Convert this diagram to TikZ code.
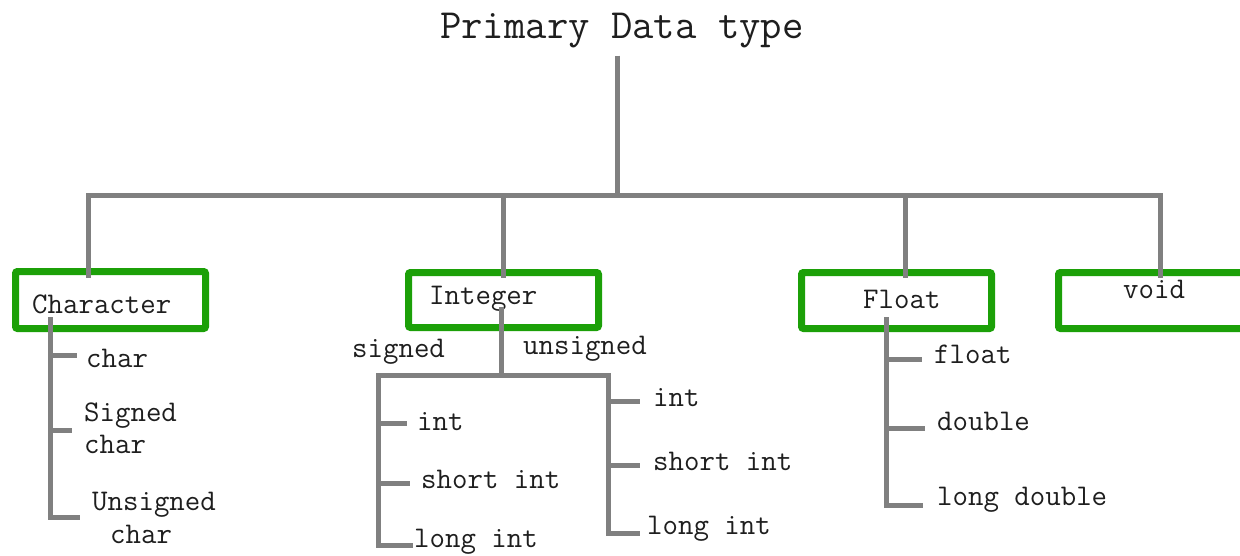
\documentclass[tikz,border=0pt]{standalone}
\usepackage{fontspec}
\definecolor{treegray}{RGB}{128,128,128}
\definecolor{boxgreen}{RGB}{28,160,8}
\definecolor{inkc}{RGB}{30,30,30}
\newcommand\lbfont{\ttfamily\fontsize{30}{30}\selectfont}
\newcommand\ttlfont{\ttfamily\fontsize{41.5}{41.5}\selectfont}
\begin{document}
\begin{tikzpicture}[x=1pt,y=-1pt,
  tree/.style={draw=treegray,line width=5pt},
  catbox/.style={draw=boxgreen,line width=7pt,rounded corners=2pt,inner sep=0pt,outer sep=0pt},
  lbl/.style={anchor=base west,inner sep=0pt,text=inkc,font=\lbfont},
  ttl/.style={anchor=base west,inner sep=0pt,text=inkc,font=\ttlfont},
]
\useasboundingbox[fill=white] (0,0) rectangle (1240,555);

% title
\node[ttl] (title) at (440,38) {Primary Data type};

% category boxes
\node[catbox,minimum width=190pt,minimum height=57pt] (charbox) at (110.5,300) {};
\node[catbox,minimum width=190pt,minimum height=55pt] (intbox) at (503.5,300) {};
\node[catbox,minimum width=190pt,minimum height=56pt] (floatbox) at (896.5,300.5) {};
\node[catbox,minimum width=191.5pt,minimum height=56pt] (voidbox) at (1154.25,300.5) {};

% category labels
\node[lbl] (tchar) at (32,313) {Character};
\node[lbl] (tint) at (429,304) {Integer};
\node[lbl] (tfloat) at (863,308) {Float};
\node[lbl] (tvoid) at (1123,298) {void};

% Character children
\node[lbl] (c1) at (86,367) {char};
\node[lbl] (c2a) at (84,421) {Signed};
\node[lbl] (c2b) at (84,453) {char};
\node[lbl] (c3a) at (92,510) {Unsigned};
\node[lbl] (c3b) at (110,543) {char};

% Integer children
\node[lbl] (tsigned) at (352,357) {signed};
\node[lbl] (tunsigned) at (523,354) {unsigned};
\node[lbl] (s1) at (417,430) {int};
\node[lbl] (s2) at (421,488) {short int};
\node[lbl] (s3) at (414,547) {long int};
\node[lbl] (u1) at (653,406) {int};
\node[lbl] (u2) at (653,470) {short int};
\node[lbl] (u3) at (647,534) {long int};

% Float children
\node[lbl] (f1) at (934,363) {float};
\node[lbl] (f2) at (937,430) {double};
\node[lbl] (f3) at (937,505) {long double};

% junction coordinates
\coordinate (jt) at (617,195);
\coordinate (jc) at (88,195);
\coordinate (ji) at (503,195);
\coordinate (jf) at (905,195);
\coordinate (jv) at (1160,195);
\coordinate (cv) at (50,317);
\coordinate (cb1) at (50,355);
\coordinate (cb2) at (50,430);
\coordinate (cb3) at (50,517);
\coordinate (iv) at (501,307);
\coordinate (ih) at (501,375);
\coordinate (il) at (378,375);
\coordinate (ir) at (608,375);
\coordinate (sb1) at (378,423);
\coordinate (sb2) at (378,483);
\coordinate (sb3) at (378,545);
\coordinate (ub1) at (608,401);
\coordinate (ub2) at (608,465);
\coordinate (ub3) at (608,533);
\coordinate (fv) at (886,317);
\coordinate (fb1) at (886,359);
\coordinate (fb2) at (886,428);
\coordinate (fb3) at (886,505);

% top tree
\draw[tree] ([yshift=-8pt]title.south -| jt) -- (jt);
\draw[tree] ([yshift=-6pt]charbox.north -| jc) -- (jc) -- (jv) -- ([yshift=-5pt]voidbox.north -| jv);
\draw[tree] (ji) -- ([yshift=-5pt]intbox.north -| ji);
\draw[tree] (jf) -- ([yshift=-5pt]floatbox.north -| jf);

% Character subtree
\draw[tree] (cv) -- (cb3) -- ([xshift=-12pt]cb3 -| c3a.west);
\draw[tree] (cb1) -- ([xshift=-9pt]cb1 -| c1.west);
\draw[tree] (cb2) -- ([xshift=-12pt]cb2 -| c2a.west);

% Integer subtree
\draw[tree] (iv) -- (ih);
\draw[tree] ([xshift=-1pt]sb3 -| s3.west) -- (sb3) -- (il) -- (ir) -- (ub3) -- ([xshift=-7pt]ub3 -| u3.west);
\draw[tree] (sb1) -- ([xshift=-10pt]sb1 -| s1.west);
\draw[tree] (sb2) -- ([xshift=-11pt]sb2 -| s2.west);
\draw[tree] (ub1) -- ([xshift=-13pt]ub1 -| u1.west);
\draw[tree] (ub2) -- ([xshift=-13pt]ub2 -| u2.west);

% Float subtree
\draw[tree] (fv) -- (fb3) -- ([xshift=-14pt]fb3 -| f3.west);
\draw[tree] (fb1) -- ([xshift=-12pt]fb1 -| f1.west);
\draw[tree] (fb2) -- ([xshift=-12pt]fb2 -| f2.west);
\end{tikzpicture}
\end{document}
